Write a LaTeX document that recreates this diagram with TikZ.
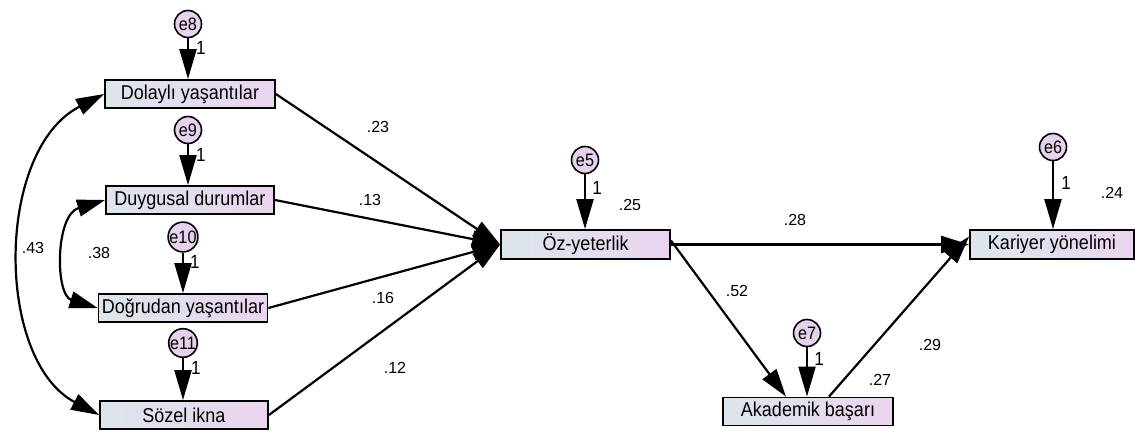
\documentclass[tikz,border=0pt]{standalone}
\usepackage{fontspec}
\setmainfont[FakeStretch=0.9]{Liberation Sans}
\newfontfamily\numfont{Liberation Sans}
\usetikzlibrary{arrows.meta}
\definecolor{boxL}{HTML}{DCE6EA}
\definecolor{boxR}{HTML}{EBD4F0}
\definecolor{errC}{HTML}{E6D2EC}
\tikzset{
  var/.style={draw, line width=1.8pt, minimum height=28pt, left color=boxL, right color=boxR, inner sep=0pt, font=\fontsize{20}{22}\selectfont},
  err/.style={circle, draw, line width=1.6pt, fill=errC, minimum size=27pt, inner sep=0pt, font=\fontsize{18}{20}\selectfont},
  arr/.style={line width=2.2pt, -{Triangle[length=28pt,width=17pt]}},
  dbl/.style={line width=2.2pt, {Triangle[length=28pt,width=17pt]}-{Triangle[length=28pt,width=17pt]}},
  earr/.style={line width=2.2pt, -{Triangle[length=30pt,width=17pt]}},
  coef/.style={font=\numfont\fontsize{16}{18}\selectfont, inner sep=0pt},
  one/.style={font=\fontsize{19}{21}\selectfont, inner sep=0pt}
}
\begin{document}
\begin{tikzpicture}[x=1pt,y=-1pt]
\useasboundingbox (0,0) rectangle (1135,434);
% observed variables
\node[var, minimum width=170pt] (dol) at (190,94) {Dolaylı yaşantılar};
\node[var, minimum width=168pt] (duy) at (190,200) {Duygusal durumlar};
\node[var, minimum width=169pt] (dog) at (183,308) {Doğrudan yaşantılar};
\node[var, minimum width=168pt] (soz) at (184,415) {Sözel ikna};
\node[var, minimum width=169pt, minimum height=29pt] (oz) at (585.5,244.5) {Öz-yeterlik};
\node[var, minimum width=170pt] (ak) at (808,411.5) {Akademik başarı};
\node[var, minimum width=164pt, minimum height=29pt] (kar) at (1052,244.5) {Kariyer yönelimi};
% error terms
\node[err] (e8) at (188,24) {e8};
\node[err] (e9) at (188,130) {e9};
\node[err] (e10) at (183,237) {e10};
\node[err] (e11) at (183,343) {e11};
\node[err] (e5) at (585,160) {e5};
\node[err] (e6) at (1053,147) {e6};
\node[err] (e7) at (807,333) {e7};
% error arrows
\draw[earr] (e8) -- (e8 |- dol.north);
\draw[earr] (e9) -- (e9 |- duy.north);
\draw[earr] (e10) -- (e10 |- dog.north);
\draw[earr] (e11) -- (e11 |- soz.north);
\draw[earr] (e5) -- (e5 |- oz.north);
\draw[earr] (e6) -- (e6 |- kar.north);
\draw[earr] (e7) -- (e7 |- ak.north);
\node[one] (o8) at (201,48) {1};
\node[one] (o9) at (201,155) {1};
\node[one] (o10) at (195,262) {1};
\node[one] (o11) at (196,368) {1};
\node[one] (o5) at (597,188) {1};
\node[one] (o6) at (1066,183) {1};
\node[one] (o7) at (819,359) {1};
% structural paths
\draw[arr] (dol.east) -- (oz.west);
\draw[arr] (duy.east) -- (oz.west);
\draw[arr] (dog.east) -- (oz.west);
\draw[arr] (soz.east) -- (oz.west);
\draw[arr] (oz.east) -- (kar.west);
\coordinate (ozc) at ([yshift=4pt]oz.east);
\coordinate (akin) at ([xshift=-22pt]ak.north);
\coordinate (akout) at ([xshift=21pt]ak.north);
\coordinate (karin) at ([yshift=8pt]kar.west);
\draw[arr] (ozc) -- (akin);
\draw[arr] (akout) -- (karin);
% covariances
\draw[dbl] (dol.west) .. controls (-5,150) and (-5,360) .. (soz.west);
\draw[dbl] (duy.west) .. controls (55,215) and (55,295) .. (dog.west);
% coefficients
\node[coef] (c23) at (378,127) {.23};
\node[coef] (c13) at (370,200) {.13};
\node[coef] (c16) at (383,298) {.16};
\node[coef] (c12) at (395,368) {.12};
\node[coef] (c43) at (33,248) {.43};
\node[coef] (c38) at (99,253) {.38};
\node[coef] (c25) at (630,205) {.25};
\node[coef] (c28) at (795,220) {.28};
\node[coef] (c52) at (737,291) {.52};
\node[coef] (c29) at (930,345) {.29};
\node[coef] (c27) at (880,380) {.27};
\node[coef] (c24) at (1112,193) {.24};
\end{tikzpicture}
\end{document}
